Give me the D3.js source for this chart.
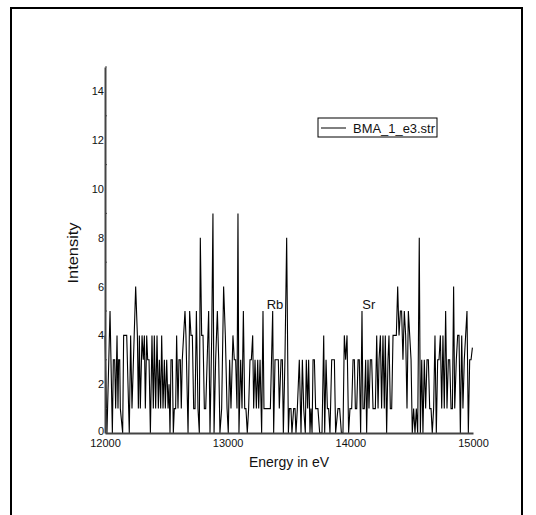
<!DOCTYPE html>
<html><head><meta charset="utf-8">
<script src="https://cdn.jsdelivr.net/npm/d3@7"></script>
<style>html,body{margin:0;padding:0;background:#fff;}svg{display:block;}</style>
</head><body>
<svg id="c" width="536" height="515"></svg>
<script>
const energy = [12000,12016,12041,12060,12068,12079,12087,12098,12106,12111,12120,12125,12144,12152,12177,12198,12209,12220,12250,12264,12272,12280,12288,12302,12312,12321,12329,12340,12348,12359,12370,12383,12394,12402,12413,12424,12435,12443,12454,12462,12473,12484,12492,12503,12514,12522,12530,12538,12549,12557,12565,12576,12584,12595,12603,12614,12622,12630,12641,12652,12660,12677,12690,12701,12712,12723,12734,12745,12758,12769,12777,12788,12799,12810,12821,12845,12856,12870,12880,12889,12902,12916,12927,12937,12951,12967,12981,12995,13005,13016,13027,13043,13054,13065,13076,13084,13092,13106,13117,13128,13139,13149,13160,13171,13182,13193,13204,13212,13223,13234,13245,13253,13264,13277,13288,13296,13348,13367,13375,13386,13413,13421,13435,13446,13454,13467,13481,13495,13503,13516,13524,13538,13549,13557,13568,13584,13598,13609,13620,13633,13641,13652,13660,13671,13679,13688,13696,13707,13717,13736,13750,13769,13783,13791,13802,13813,13823,13834,13848,13870,13880,13899,13913,13927,13940,13951,13962,13973,13986,13997,14011,14022,14033,14041,14052,14063,14073,14084,14095,14103,14114,14125,14133,14144,14152,14163,14174,14185,14204,14215,14226,14234,14245,14255,14266,14277,14285,14296,14307,14315,14326,14337,14348,14375,14386,14397,14408,14418,14429,14440,14451,14462,14473,14484,14495,14505,14516,14527,14538,14549,14562,14571,14582,14592,14603,14614,14625,14636,14647,14658,14668,14679,14690,14701,14712,14723,14734,14745,14755,14766,14777,14788,14799,14810,14821,14832,14842,14851,14864,14875,14886,14897,14908,14918,14929,14940,14951,14962,14973,14984,14995];
const intensity = [4,0,5,0,3,3,1,4,1,3,3,1,0,4,4,0,4,1,6,4,1,4,1,4,3,4,1,4,3,3,0,4,1,4,1,4,1,3,1,4,1,3,1,3,1,2,0,3,3,0,1,1,4,1,3,3,1,3,4,5,4,0,5,4,4,1,1,5,1,0,8,4,4,1,1,5,0,4,9,0,3,5,3,0,1,6,4,1,0,3,1,4,3,3,1,9,0,3,1,5,1,1,0,1,3,3,4,1,3,1,3,1,3,0,5,1,1,5,0,3,3,1,3,3,0,3,8,0,1,1,0,1,1,0,1,3,0,3,1,0,3,1,3,0,1,0,3,3,1,1,0,0,4,0,3,1,1,0,3,3,0,1,1,0,0,4,3,4,0,1,1,3,3,1,1,3,3,0,5,1,1,3,0,3,1,3,3,1,1,4,1,3,4,1,4,1,4,0,3,4,1,1,4,4,6,4,5,5,3,5,4,1,5,4,3,0,1,0,1,0,8,0,3,0,3,1,3,3,1,1,0,1,4,0,3,3,4,1,4,1,5,1,3,3,1,1,6,1,3,4,4,0,4,1,3,4,5,0,3,3,3.5];
const xTicks = [12000,13000,14000,15000];
const yTicks = [0,2,4,6,8,10,12,14];
const yMinor = [1,3,5,7,9,11,13,15];
const seriesName = "BMA_1_e3.str";
const peaks = [{label:"Rb", e:13386, v:5.1}, {label:"Sr", e:14150, v:5.1}];

const svg = d3.select("#c");
const font = "'Liberation Sans', Arial, sans-serif";

svg.append("rect").attr("x",11).attr("y",8).attr("width",511).attr("height",540)
  .attr("fill","none").attr("stroke","#000").attr("stroke-width",2);

const x = d3.scaleLinear().domain([12000,15000]).range([105,473]);
const y = d3.scaleLinear().domain([0,15]).range([433,67]);

// data line
const line = d3.line().x((d,i)=>x(energy[i])).y(d=>y(d));
svg.append("path").datum(intensity).attr("d",line)
  .attr("fill","none").attr("stroke","#000").attr("stroke-width",1.1).attr("stroke-linejoin","miter");

// axes
const ax = svg.append("g").attr("transform","translate(0,433)")
  .call(d3.axisBottom(x).tickValues(xTicks).tickSize(0).tickPadding(6).tickFormat(d3.format("d")));
ax.select(".domain").attr("stroke","#444").attr("stroke-width",2);
ax.selectAll("text").attr("font-family",font).attr("font-size",11).attr("fill","#111");

const ay = svg.append("g").attr("transform","translate(105,0)")
  .call(d3.axisLeft(y).tickValues(yTicks).tickSize(0).tickPadding(1));
ay.select(".domain").attr("stroke","#444").attr("stroke-width",2);
ay.selectAll("text").attr("font-family",font).attr("font-size",11).attr("fill","#111");
ay.selectAll(".tick").filter(d=>d===0).select("text").attr("dy","0.1em");

svg.append("g").selectAll("line").data(yMinor).join("line")
  .attr("x1",105).attr("x2",107).attr("y1",d=>y(d)).attr("y2",d=>y(d))
  .attr("stroke","#444").attr("stroke-width",1);

// axis titles
svg.append("text").attr("x",289).attr("y",467).attr("text-anchor","middle")
  .attr("font-family",font).attr("font-size",14).attr("fill","#111").text("Energy in eV");
svg.append("text").attr("transform","translate(78,253) rotate(-90)").attr("text-anchor","middle")
  .attr("font-family",font).attr("font-size",14).attr("fill","#111")
  .attr("textLength",61).attr("lengthAdjust","spacingAndGlyphs").text("Intensity");

// peak labels
svg.append("g").selectAll("text").data(peaks).join("text")
  .attr("x",d=>x(d.e)).attr("y",d=>y(d.v)).attr("text-anchor","middle")
  .attr("font-family",font).attr("font-size",13).attr("fill","#111").text(d=>d.label);

// legend
const lg = svg.append("g");
lg.append("rect").attr("x",318).attr("y",118).attr("width",119).attr("height",19)
  .attr("fill","#fff").attr("stroke","#000").attr("stroke-width",1);
lg.append("line").attr("x1",321).attr("x2",346).attr("y1",128).attr("y2",128)
  .attr("stroke","#000").attr("stroke-width",1);
lg.append("text").attr("x",353).attr("y",133).attr("font-family",font).attr("font-size",13)
  .attr("fill","#111").attr("textLength",82).attr("lengthAdjust","spacingAndGlyphs").text(seriesName);
</script>
</body></html>
